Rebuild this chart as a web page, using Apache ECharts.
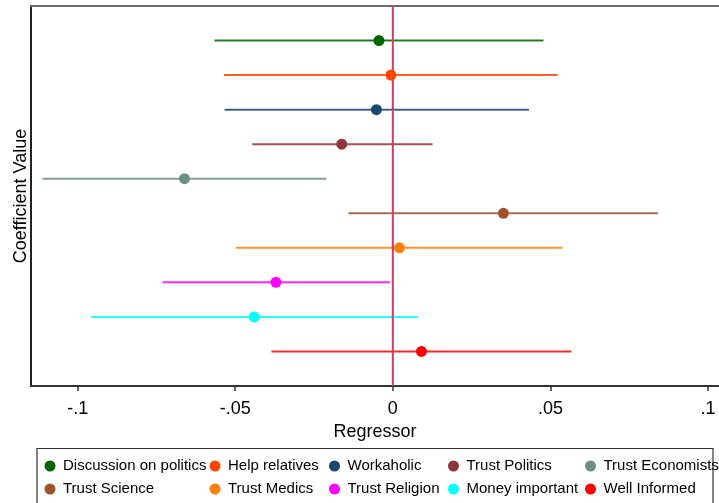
<!DOCTYPE html>
<html>
<head>
<meta charset="utf-8">
<script src="https://cdn.jsdelivr.net/npm/echarts@6/dist/echarts.min.js"></script>
<style>
html,body{margin:0;padding:0;background:#fff;}
#chart{width:719px;height:503px;}
</style>
</head>
<body>
<div id="chart"></div>
<script>
// ---- data ----
const NAMES = ['Discussion on politics','Help relatives','Workaholic','Trust Politics','Trust Economists',
               'Trust Science','Trust Medics','Trust Religion','Money important','Well Informed'];
const ESTIMATES = [-0.0044,-0.0006,-0.0052,-0.0162,-0.0661,0.0351,0.0021,-0.0371,-0.0440,0.0091];
const CI_LOW    = [-0.0566,-0.0536,-0.0534,-0.0446,-0.1112,-0.0141,-0.0497,-0.0731,-0.0958,-0.0385];
const CI_HIGH   = [0.0478,0.0523,0.0432,0.0126,-0.0211,0.0841,0.0538,-0.0009,0.0079,0.0567];
const ROWS      = [1,2,3,4,5,6,7,8,9,10];
const COLORS    = ['#006400','#ff4500','#1a476f','#90353b','#6e8e84','#a0522d','#ff7f0e','#ff00ff','#00ffff','#ff0000'];
const TICK_VALUES = [-0.1,-0.05,0,0.05,0.1];
const TICK_LABELS = ['-.1','-.05','0','.05','.1'];
const ZERO = 0;
const X_MIN = -0.1148, X_MAX = 0.1035;

// ---- layout helpers (positions/styles) ----
const FONT = "'Liberation Sans', Arial, sans-serif";
const LEGEND_POS = [
  [52.5,466],[217.5,466],[337,466],[456,466],[593,466],
  [52.5,489],[217.5,489],[337,489],[456,489],[593,489]
];

const series = [];
NAMES.forEach((name, i) => {
  series.push({
    type: 'custom',
    name: name,
    z: 2,
    silent: true,
    data: [[CI_LOW[i], CI_HIGH[i], ROWS[i]]],
    encode: { x: [0, 1], y: 2 },
    renderItem: function (params, api) {
      const p1 = api.coord([api.value(0), api.value(2)]);
      const p2 = api.coord([api.value(1), api.value(2)]);
      return {
        type: 'line',
        shape: { x1: p1[0], y1: p1[1], x2: p2[0], y2: p2[1] },
        style: { stroke: COLORS[i], lineWidth: 2, opacity: 0.85 }
      };
    }
  });
});
series.push({
  type: 'line',
  name: 'zero',
  z: 3,
  silent: true,
  symbol: 'none',
  data: [[ZERO, 0], [ZERO, 11]],
  lineStyle: { color: '#cf3a66', width: 2 }
});
NAMES.forEach((name, i) => {
  series.push({
    type: 'scatter',
    name: name,
    z: 4,
    symbol: 'circle',
    symbolSize: 11,
    itemStyle: { color: COLORS[i], opacity: 1 },
    data: [[ESTIMATES[i], ROWS[i]]]
  });
});

const legends = NAMES.map((name, i) => ({
  data: [{ name: name, icon: 'circle', itemStyle: { color: COLORS[i] } }],
  left: LEGEND_POS[i][0] - 8,
  top: LEGEND_POS[i][1] - 8,
  padding: 0,
  itemWidth: 16,
  itemHeight: 11,
  selectedMode: false,
  textStyle: { fontFamily: FONT, fontSize: 15, color: '#000', lineHeight: 16 }
}));

const chart = echarts.init(document.getElementById('chart'), null, { renderer: 'canvas' });
chart.setOption({
  animation: false,
  backgroundColor: '#fff',
  grid: { left: 31, top: 6, right: 0, bottom: 117 },
  legend: legends,
  xAxis: [{
    type: 'value',
    min: X_MIN, max: X_MAX,
    name: 'Regressor',
    nameLocation: 'middle',
    nameGap: 33,
    nameTextStyle: { fontFamily: FONT, fontSize: 18, color: '#000' },
    splitLine: { show: false },
    axisLine: { show: true, onZero: false, lineStyle: { color: '#333', width: 2 } },
    axisTick: { show: true, length: 5, inside: false, customValues: TICK_VALUES, lineStyle: { color: '#333', width: 1.5 } },
    axisLabel: {
      customValues: TICK_VALUES,
      margin: 14,
      fontFamily: FONT, fontSize: 18, color: '#000',
      formatter: function (v) {
        const idx = TICK_VALUES.findIndex(t => Math.abs(t - v) < 1e-9);
        return idx >= 0 ? TICK_LABELS[idx] : '';
      }
    }
  }, {
    type: 'value',
    position: 'top',
    min: X_MIN, max: X_MAX,
    splitLine: { show: false },
    axisLine: { show: true, onZero: false, lineStyle: { color: '#6b6b6b', width: 2 } },
    axisTick: { show: false },
    axisLabel: { show: false }
  }],
  yAxis: {
    type: 'value',
    min: 0, max: 11,
    inverse: true,
    name: 'Coefficient Value',
    nameLocation: 'middle',
    nameGap: 1,
    nameTextStyle: { fontFamily: FONT, fontSize: 18, color: '#000' },
    splitLine: { show: false },
    axisLine: { show: true, onZero: false, lineStyle: { color: '#222', width: 2 } },
    axisTick: { show: false },
    axisLabel: { show: false }
  },
  graphic: [{
    type: 'rect',
    shape: { x: 37, y: 448.5, width: 676, height: 70 },
    style: { fill: 'none', stroke: '#333', lineWidth: 1.2 },
    z: 0
  }],
  series: series
});
</script>
</body>
</html>
